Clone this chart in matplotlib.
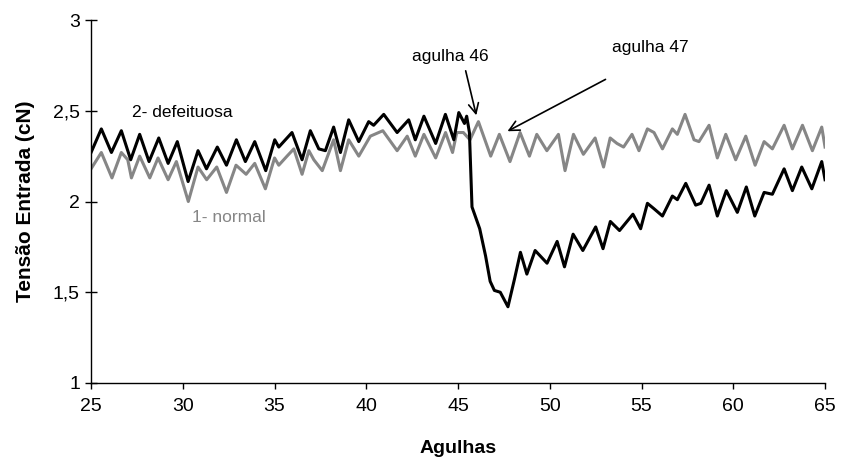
import matplotlib.pyplot as plt

plt.rcParams['font.family'] = ['Liberation Sans', 'DejaVu Sans']

# agulhas (x) e tensão de entrada (cN) - série 2, agulha defeituosa
x_defeituosa = [25.0, 25.56, 26.11, 26.65, 27.16, 27.65, 28.16, 28.69, 29.20, 29.70,
                30.29, 30.83, 31.29, 31.88, 32.38, 32.92, 33.41, 33.92, 34.52, 35.01,
                35.23, 35.95, 36.50, 36.95, 37.41, 37.77, 38.22, 38.59, 39.04, 39.59,
                40.13, 40.40, 40.95, 41.68, 42.31, 42.67, 43.14, 43.78, 44.31, 44.77,
                45.04, 45.35, 45.47, 45.62, 45.76, 45.90, 46.18, 46.50, 46.75, 46.98,
                47.30, 47.72, 48.07, 48.40, 48.75, 49.20, 49.85, 50.40, 50.80, 51.27,
                51.80, 52.50, 52.90, 53.30, 53.80, 54.53, 54.95, 55.32, 55.68, 56.14,
                56.68, 56.95, 57.41, 57.95, 58.23, 58.68, 59.13, 59.62, 60.22, 60.71,
                61.17, 61.68, 62.13, 62.77, 63.22, 63.73, 64.28, 64.82, 65.0]
y_defeituosa = [2.27, 2.40, 2.27, 2.39, 2.23, 2.37, 2.22, 2.35, 2.21, 2.33,
                2.11, 2.28, 2.18, 2.30, 2.20, 2.34, 2.22, 2.33, 2.17, 2.34,
                2.30, 2.38, 2.23, 2.39, 2.29, 2.28, 2.41, 2.27, 2.45, 2.33,
                2.44, 2.42, 2.48, 2.38, 2.45, 2.34, 2.47, 2.32, 2.48, 2.34,
                2.49, 2.43, 2.47, 2.38, 1.97, 1.93, 1.85, 1.70, 1.56, 1.51,
                1.50, 1.42, 1.57, 1.72, 1.60, 1.73, 1.66, 1.78, 1.64, 1.82,
                1.73, 1.86, 1.74, 1.89, 1.84, 1.93, 1.85, 1.99, 1.96, 1.92,
                2.03, 2.01, 2.10, 1.98, 1.99, 2.09, 1.92, 2.06, 1.94, 2.08,
                1.92, 2.05, 2.04, 2.18, 2.06, 2.19, 2.07, 2.22, 2.12]

# série 1, agulha normal
x_normal = [25.0, 25.56, 26.14, 26.65, 27.0, 27.2, 27.65, 28.2, 28.65, 29.2,
            29.65, 30.3, 30.83, 31.3, 31.85, 32.38, 32.9, 33.45, 33.92, 34.5,
            35.0, 35.23, 35.68, 36.05, 36.5, 36.87, 37.14, 37.6, 38.22, 38.59,
            39.04, 39.59, 40.22, 40.9, 41.68, 42.23, 42.67, 43.14, 43.78, 44.32,
            44.7, 44.93, 45.29, 45.65, 46.11, 46.78, 47.25, 47.83, 48.38, 48.89,
            49.29, 49.84, 50.47, 50.83, 51.29, 51.83, 52.47, 52.93, 53.29, 53.66,
            54.02, 54.48, 54.86, 55.32, 55.68, 56.14, 56.68, 56.95, 57.37, 57.86,
            58.13, 58.68, 59.13, 59.59, 60.13, 60.68, 61.19, 61.68, 62.13, 62.77,
            63.22, 63.77, 64.31, 64.82, 65.0]
y_normal = [2.18, 2.27, 2.13, 2.27, 2.23, 2.13, 2.25, 2.13, 2.24, 2.12,
            2.22, 2.00, 2.19, 2.12, 2.19, 2.05, 2.20, 2.15, 2.21, 2.07,
            2.24, 2.20, 2.25, 2.29, 2.15, 2.28, 2.23, 2.17, 2.34, 2.17,
            2.34, 2.25, 2.36, 2.39, 2.28, 2.36, 2.25, 2.37, 2.24, 2.38,
            2.27, 2.38, 2.38, 2.34, 2.44, 2.25, 2.37, 2.22, 2.38, 2.25,
            2.37, 2.28, 2.37, 2.17, 2.37, 2.26, 2.35, 2.19, 2.35, 2.32,
            2.30, 2.37, 2.28, 2.40, 2.38, 2.29, 2.40, 2.37, 2.48, 2.34,
            2.33, 2.42, 2.24, 2.37, 2.23, 2.36, 2.20, 2.33, 2.29, 2.42,
            2.29, 2.42, 2.28, 2.41, 2.30]

x_ticks = [25, 30, 35, 40, 45, 50, 55, 60, 65]
y_ticks = [1, 1.5, 2, 2.5, 3]
y_tick_labels = ['1', '1,5', '2', '2,5', '3']

cinza = '#868686'

fig = plt.figure(figsize=(8.51, 4.59), dpi=100)
ax = fig.add_axes([0.107, 0.1656, 0.8625, 0.7908])

ax.plot(x_normal, y_normal, color=cinza, lw=2.2, solid_joinstyle='round')
ax.plot(x_defeituosa, y_defeituosa, color='black', lw=2.2, solid_joinstyle='round')

ax.set_xlim(25, 65)
ax.set_ylim(1, 3)
ax.set_xticks(x_ticks)
ax.set_yticks(y_ticks)
ax.set_yticklabels(y_tick_labels)
ax.tick_params(axis='y', direction='inout', length=8, width=1, labelsize=14, pad=4)
ax.tick_params(axis='x', direction='out', length=4, width=1, labelsize=14, pad=7)
for s in ['top', 'right']:
    ax.spines[s].set_visible(False)
ax.spines['left'].set_linewidth(1)
ax.spines['bottom'].set_linewidth(1)

ax.set_xlabel('Agulhas', fontsize=14, fontweight='bold', labelpad=18)
ax.set_ylabel('Tensão Entrada (cN)', fontsize=15, fontweight='bold', labelpad=13)

ax.text(30.0, 2.49, '2- defeituosa', fontsize=12.5, ha='center', va='center')
ax.text(32.5, 1.91, '1- normal', fontsize=12.5, ha='center', va='center', color=cinza)

ax.text(44.6, 2.80, 'agulha 46', fontsize=12.5, ha='center', va='center')
ax.annotate('', xy=(46.03, 2.46), xytext=(45.38, 2.735),
            arrowprops=dict(arrowstyle='->', color='black', lw=1.2, mutation_scale=18))
ax.text(55.5, 2.85, 'agulha 47', fontsize=12.5, ha='center', va='center')
ax.annotate('', xy=(47.56, 2.38), xytext=(53.17, 2.68),
            arrowprops=dict(arrowstyle='->', color='black', lw=1.2, mutation_scale=18))

fig.savefig('out.png', dpi=100)
